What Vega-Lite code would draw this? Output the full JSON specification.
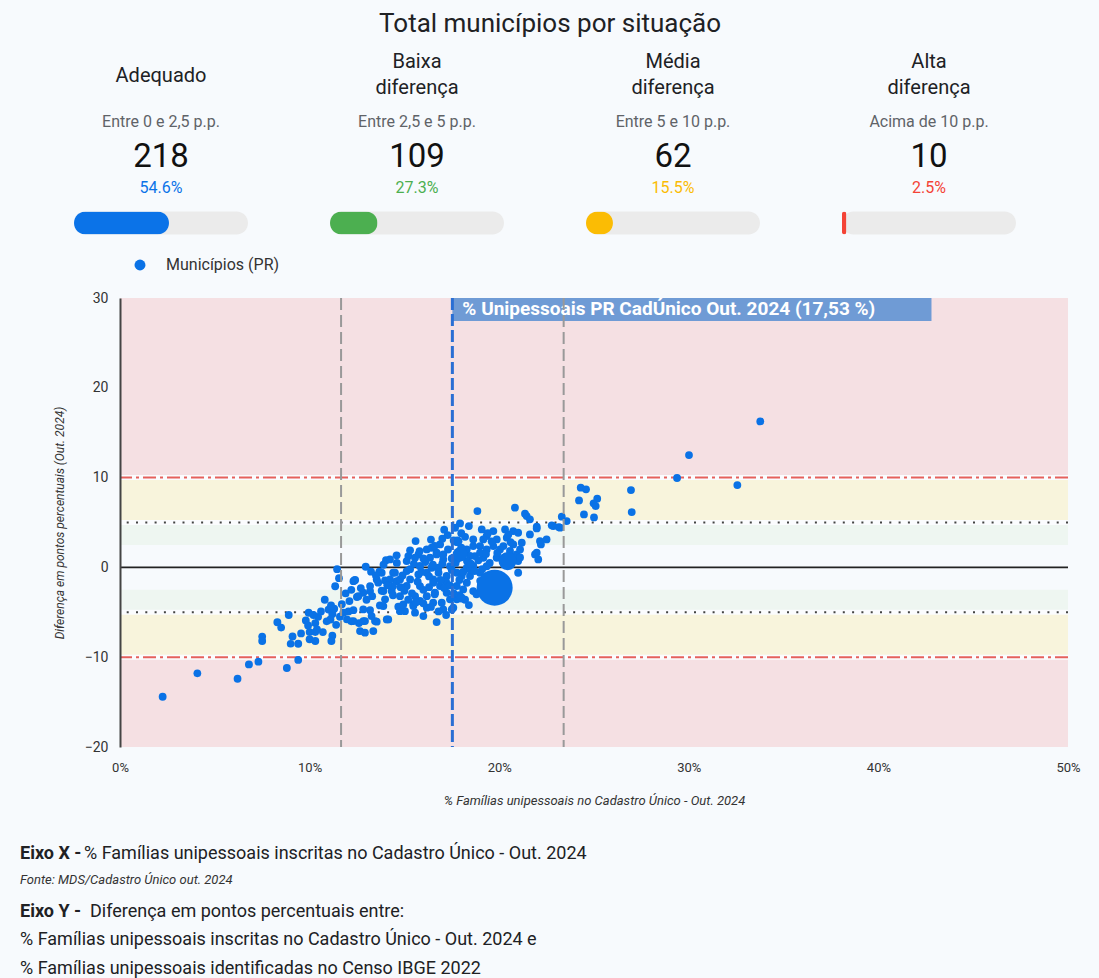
{
  "$schema": "https://vega.github.io/schema/vega-lite/v6.json",
  "background": "#f7fafd",
  "padding": {"left": 20, "top": 10, "right": 20, "bottom": 0},
  "title": {"text": "Total municípios por situação", "fontSize": 26, "font": "Roboto", "fontWeight": "normal", "color": "#202124", "anchor": "middle", "offset": 14},
  "config": {"view": {"stroke": null}, "font": "Roboto", "axis": {"grid": false}},
  "resolve": {"scale": {"color": "independent", "fill": "independent"}, "legend": {"color": "independent", "fill": "independent"}},
  "spacing": 15,
  "vconcat": [
    {
      "spacing": 0,
      "hconcat": [
        {"width": 54, "height": 1, "data": {"values": [{}]}, "mark": {"type": "text"}, "encoding": {"text": {"value": ""}}},
        {
          "data": {"values": [
            {"situacao": "Adequado", "faixa": "Entre 0 e 2,5 p.p.", "total": 218, "pct": 0.546},
            {"situacao": "Baixa diferença", "faixa": "Entre 2,5 e 5 p.p.", "total": 109, "pct": 0.273},
            {"situacao": "Média diferença", "faixa": "Entre 5 e 10 p.p.", "total": 62, "pct": 0.155},
            {"situacao": "Alta diferença", "faixa": "Acima de 10 p.p.", "total": 10, "pct": 0.025}
          ]},
          "facet": {"column": {"field": "situacao", "type": "nominal", "sort": ["Adequado", "Baixa diferença", "Média diferença", "Alta diferença"], "header": {"title": null, "labels": false}}},
          "spacing": 82,
          "spec": {
            "width": 174,
            "height": 185.6,
            "layer": [
              {
                "mark": {"type": "bar", "height": 23, "cornerRadius": 11.5, "color": "#ebebeb"},
                "encoding": {
                  "x": {"datum": 1, "type": "quantitative", "scale": {"domain": [0, 1]}, "axis": null},
                  "y": {"datum": "barra", "type": "nominal", "scale": {"type": "band", "domain": ["titulo", "faixa", "total", "pct", "barra"], "paddingInner": 0, "paddingOuter": 0}, "axis": null}
                }
              },
              {
                "mark": {"type": "bar", "height": 23, "cornerRadius": 11.5},
                "encoding": {
                  "x": {"field": "pct", "type": "quantitative"},
                  "y": {"datum": "barra", "type": "nominal"},
                  "fill": {"field": "situacao", "type": "nominal", "scale": {"domain": ["Adequado", "Baixa diferença", "Média diferença", "Alta diferença"], "range": ["#0b73e8", "#4caf50", "#fbbc04", "#f44336"]}, "legend": null}
                }
              },
              {
                "transform": [{"filter": "indexof(datum.situacao, ' ') < 0"}],
                "mark": {"type": "text", "fontSize": 20, "color": "#202124", "baseline": "middle", "dy": 1},
                "encoding": {
                  "x": {"datum": 0.5, "type": "quantitative"},
                  "y": {"datum": "titulo", "type": "nominal"},
                  "text": {"field": "situacao"}
                }
              },
              {
                "transform": [{"filter": "indexof(datum.situacao, ' ') >= 0"}],
                "mark": {"type": "text", "lineBreak": " ", "lineHeight": 26, "fontSize": 20, "color": "#202124", "baseline": "middle", "dy": -13},
                "encoding": {
                  "x": {"datum": 0.5, "type": "quantitative"},
                  "y": {"datum": "titulo", "type": "nominal"},
                  "text": {"field": "situacao"}
                }
              },
              {
                "mark": {"type": "text", "fontSize": 16, "color": "#5f6368", "baseline": "middle", "dy": 10},
                "encoding": {
                  "x": {"datum": 0.5, "type": "quantitative"},
                  "y": {"datum": "faixa", "type": "nominal"},
                  "text": {"field": "faixa"}
                }
              },
              {
                "mark": {"type": "text", "fontSize": 33, "color": "#111111", "baseline": "middle", "dy": 8},
                "encoding": {
                  "x": {"datum": 0.5, "type": "quantitative"},
                  "y": {"datum": "total", "type": "nominal"},
                  "text": {"field": "total"}
                }
              },
              {
                "mark": {"type": "text", "fontSize": 16, "baseline": "middle", "dy": 2},
                "encoding": {
                  "x": {"datum": 0.5, "type": "quantitative"},
                  "y": {"datum": "pct", "type": "nominal"},
                  "text": {"field": "pct", "format": ".1%"},
                  "fill": {"field": "situacao", "type": "nominal", "legend": null}
                }
              }
            ]
          }
        }
      ]
    },
    {
      "spacing": 0,
      "hconcat": [
        {"width": 33, "height": 1, "data": {"values": [{}]}, "mark": {"type": "text"}, "encoding": {"text": {"value": ""}}},
        {
          "width": 948,
          "height": 449,
          "layer": [
            {
              "data": {"values": [
                {"faixa": "alta", "ini": 10, "fim": 30},
                {"faixa": "alta", "ini": -20, "fim": -10},
                {"faixa": "media", "ini": 5, "fim": 10},
                {"faixa": "media", "ini": -10, "fim": -5},
                {"faixa": "baixa", "ini": 2.5, "fim": 5},
                {"faixa": "baixa", "ini": -5, "fim": -2.5}
              ]},
              "mark": {"type": "rect"},
              "encoding": {
                "x": {"datum": 0, "type": "quantitative"},
                "x2": {"datum": 50},
                "y": {"field": "ini", "type": "quantitative"},
                "y2": {"field": "fim"},
                "fill": {"field": "faixa", "type": "nominal", "scale": {"domain": ["alta", "media", "baixa"], "range": ["#f5e0e3", "#f8f4dc", "#eef6f1"]}, "legend": null}
              }
            },
            {
              "data": {"values": [{"valor": 10, "tipo": "alta"}, {"valor": -10, "tipo": "alta"}, {"valor": 5, "tipo": "media"}, {"valor": -5, "tipo": "media"}, {"valor": 0, "tipo": "zero"}]},
              "layer": [
                {
                  "transform": [{"filter": "datum.tipo != 'zero'"}],
                  "mark": {"type": "rule", "color": "#fbfcfe", "strokeWidth": 5},
                  "encoding": {"y": {"field": "valor", "type": "quantitative"}}
                },
                {
                  "transform": [{"filter": "datum.tipo == 'zero'"}],
                  "mark": {"type": "rule", "color": "#222222", "strokeWidth": 1.6},
                  "encoding": {"y": {"field": "valor", "type": "quantitative"}}
                },
                {
                  "transform": [{"filter": "datum.tipo == 'media'"}],
                  "mark": {"type": "rule", "color": "#444444", "strokeWidth": 2, "strokeDash": [2, 7.3]},
                  "encoding": {"y": {"field": "valor", "type": "quantitative"}}
                },
                {
                  "transform": [{"filter": "datum.tipo == 'alta'"}],
                  "mark": {"type": "rule", "color": "#e5605c", "strokeWidth": 2, "strokeDash": [13, 4, 3, 4]},
                  "encoding": {"y": {"field": "valor", "type": "quantitative"}}
                }
              ]
            },
            {
              "data": {"values": [
{"cad":2.25,"dif":-14.4,"fam":600},{"cad":4.08,"dif":-11.8,"fam":450},{"cad":6.2,"dif":-12.4,"fam":500},{"cad":6.8,"dif":-10.8,"fam":700},{"cad":7.3,"dif":-10.5,"fam":550},{"cad":8.8,"dif":-11.2,"fam":620},{"cad":9.4,"dif":-10.3,"fam":480},{"cad":7.5,"dif":-7.7,"fam":520},{"cad":7.5,"dif":-8.2,"fam":610},{"cad":8.3,"dif":-6.1,"fam":700},{"cad":8.5,"dif":-6.7,"fam":430},{"cad":8.9,"dif":-5.3,"fam":560},{"cad":9.1,"dif":-7.7,"fam":640},{"cad":9.0,"dif":-8.5,"fam":390},{"cad":9.4,"dif":-8.5,"fam":720},{"cad":9.55,"dif":-7.35,"fam":480},{"cad":9.8,"dif":-5.9,"fam":530},{"cad":9.95,"dif":-5.05,"fam":610},{"cad":10.0,"dif":-7.2,"fam":450},{"cad":10.0,"dif":-8.0,"fam":580},{"cad":10.3,"dif":-8.2,"fam":700},{"cad":10.3,"dif":-7.2,"fam":410},{"cad":10.3,"dif":-6.2,"fam":660},{"cad":10.45,"dif":-5.5,"fam":520},{"cad":10.7,"dif":-7.2,"fam":480},{"cad":10.8,"dif":-3.6,"fam":590},{"cad":11.0,"dif":-4.7,"fam":640},{"cad":10.9,"dif":-6.0,"fam":450},{"cad":11.2,"dif":-7.6,"fam":530},{"cad":11.15,"dif":-8.2,"fam":700},{"cad":11.2,"dif":-5.2,"fam":820},{"cad":11.3,"dif":-4.6,"fam":480},{"cad":11.4,"dif":-6.4,"fam":560},{"cad":11.35,"dif":-2.1,"fam":620},{"cad":11.55,"dif":-1.2,"fam":510},{"cad":11.45,"dif":-0.2,"fam":470},{"cad":12.4,"dif":-1.4,"fam":690},{"cad":12.1,"dif":-3.75,"fam":540},{"cad":12.05,"dif":-4.9,"fam":610},{"cad":12.2,"dif":-6.0,"fam":450},{"cad":12.5,"dif":-3.3,"fam":780},{"cad":12.6,"dif":-6.2,"fam":520},{"cad":10.6,"dif":-4.9,"fam":480},{"cad":11.6,"dif":-5.5,"fam":630},{"cad":11.7,"dif":-4.1,"fam":570},{"cad":11.9,"dif":-2.9,"fam":440},{"cad":11.1,"dif":-5.8,"fam":600},{"cad":10.2,"dif":-5.3,"fam":510},{"cad":11.13,"dif":-4.23,"fam":680},{"cad":11.97,"dif":-5.79,"fam":420},{"cad":9.92,"dif":-6.46,"fam":560},{"cad":10.39,"dif":-6.9,"fam":610},
{"cad":12.96,"dif":0.08,"fam":720},{"cad":13.24,"dif":-0.48,"fam":540},{"cad":13.68,"dif":-0.48,"fam":600},{"cad":12.36,"dif":-1.45,"fam":480},{"cad":13.54,"dif":-1.34,"fam":650},{"cad":13.98,"dif":-1.45,"fam":530},{"cad":14.41,"dif":-0.59,"fam":880},{"cad":14.59,"dif":-1.53,"fam":610},{"cad":14.33,"dif":-2.64,"fam":700},{"cad":13.19,"dif":-2.64,"fam":470},{"cad":12.83,"dif":-2.82,"fam":560},{"cad":12.57,"dif":-3.2,"fam":620},{"cad":12.31,"dif":-4.76,"fam":540},{"cad":12.83,"dif":-4.68,"fam":610},{"cad":13.19,"dif":-4.76,"fam":480},{"cad":13.71,"dif":-4.23,"fam":720},{"cad":13.27,"dif":-5.42,"fam":560},{"cad":12.92,"dif":-5.98,"fam":640},{"cad":13.54,"dif":-6.05,"fam":500},{"cad":14.07,"dif":-5.79,"fam":590},{"cad":14.68,"dif":-4.38,"fam":680},{"cad":15.03,"dif":-4.87,"fam":530},{"cad":15.47,"dif":-4.12,"fam":610},{"cad":16.0,"dif":-5.42,"fam":470},{"cad":16.7,"dif":-6.09,"fam":580},{"cad":17.05,"dif":-4.68,"fam":640},{"cad":17.58,"dif":-4.49,"fam":520},{"cad":12.66,"dif":-7.09,"fam":560},{"cad":12.92,"dif":-7.27,"fam":490},{"cad":13.36,"dif":-7.09,"fam":610},{"cad":14.03,"dif":0.81,"fam":650},{"cad":14.24,"dif":0.89,"fam":590},{"cad":14.59,"dif":1.34,"fam":720},{"cad":15.21,"dif":1.26,"fam":680},{"cad":15.74,"dif":1.45,"fam":540},{"cad":16.18,"dif":2.0,"fam":610},{"cad":16.7,"dif":1.64,"fam":760},{"cad":15.59,"dif":2.93,"fam":530},{"cad":16.88,"dif":2.56,"fam":690},{"cad":17.28,"dif":3.6,"fam":640},{"cad":17.76,"dif":2.82,"fam":580},{"cad":14.5,"dif":-0.59,"fam":590},{"cad":14.24,"dif":-1.34,"fam":640},{"cad":14.4,"dif":-2.1,"fam":520},{"cad":13.89,"dif":-2.64,"fam":610},{"cad":13.62,"dif":-1.7,"fam":540},{"cad":13.8,"dif":-0.59,"fam":700},{"cad":13.19,"dif":-2.08,"fam":560},{"cad":11.78,"dif":-5.04,"fam":590},{"cad":12.31,"dif":-1.53,"fam":470},{"cad":13.98,"dif":-3.56,"fam":620},{"cad":13.89,"dif":-4.31,"fam":500},{"cad":14.77,"dif":-4.87,"fam":580},{"cad":15.56,"dif":-5.04,"fam":640},{"cad":14.15,"dif":-5.79,"fam":530},{"cad":13.45,"dif":-5.98,"fam":600},{"cad":12.83,"dif":-5.98,"fam":470},{"cad":12.31,"dif":-5.98,"fam":560},
{"cad":15.12,"dif":-2.08,"fam":700},{"cad":14.77,"dif":-1.34,"fam":560},{"cad":15.12,"dif":-0.41,"fam":620},{"cad":15.12,"dif":0.7,"fam":580},{"cad":15.56,"dif":1.08,"fam":650},{"cad":15.82,"dif":0.14,"fam":900},{"cad":16.18,"dif":-0.59,"fam":720},{"cad":16.52,"dif":-1.34,"fam":610},{"cad":16.88,"dif":-2.08,"fam":680},{"cad":17.23,"dif":-0.97,"fam":840},{"cad":17.41,"dif":0.14,"fam":760},{"cad":17.05,"dif":0.89,"fam":650},{"cad":16.7,"dif":1.45,"fam":590},{"cad":16.35,"dif":1.08,"fam":700},{"cad":14.77,"dif":-3.2,"fam":540},{"cad":14.94,"dif":-4.12,"fam":620},{"cad":15.47,"dif":-4.31,"fam":560},{"cad":15.82,"dif":-3.75,"fam":680},{"cad":16.18,"dif":-3.2,"fam":720},{"cad":16.52,"dif":-3.93,"fam":600},{"cad":16.97,"dif":-3.93,"fam":650},{"cad":17.41,"dif":-3.56,"fam":780},{"cad":17.76,"dif":-3.56,"fam":560},{"cad":17.5,"dif":-4.68,"fam":620},{"cad":16.18,"dif":-4.49,"fam":540},{"cad":16.61,"dif":-2.82,"fam":880},{"cad":17.23,"dif":-2.82,"fam":700},{"cad":17.76,"dif":-2.08,"fam":760},{"cad":18.1,"dif":-2.45,"fam":640},{"cad":18.63,"dif":-2.64,"fam":590},{"cad":18.29,"dif":-1.7,"fam":820},{"cad":15.82,"dif":-2.08,"fam":660},{"cad":15.56,"dif":-3.2,"fam":720},{"cad":15.3,"dif":-1.34,"fam":610},{"cad":15.74,"dif":-0.78,"fam":840},{"cad":16.44,"dif":-0.03,"fam":950},{"cad":16.79,"dif":-0.03,"fam":700},{"cad":17.76,"dif":-0.59,"fam":880},{"cad":18.02,"dif":-0.97,"fam":650},{"cad":17.76,"dif":0.89,"fam":720},{"cad":18.29,"dif":-0.03,"fam":600},{"cad":18.29,"dif":2.0,"fam":680},{"cad":18.63,"dif":2.37,"fam":590},{"cad":18.99,"dif":2.37,"fam":620},{"cad":19.34,"dif":2.0,"fam":700},{"cad":19.69,"dif":2.37,"fam":560},{"cad":20.04,"dif":2.0,"fam":640},{"cad":19.87,"dif":1.08,"fam":760},{"cad":19.34,"dif":0.14,"fam":820},{"cad":18.99,"dif":-0.59,"fam":700},{"cad":18.46,"dif":-0.97,"fam":650},{"cad":19.34,"dif":-0.97,"fam":600},{"cad":18.63,"dif":0.14,"fam":880},{"cad":18.72,"dif":1.26,"fam":640},{"cad":19.16,"dif":1.08,"fam":700},{"cad":18.63,"dif":3.12,"fam":560},{"cad":19.16,"dif":3.12,"fam":620},{"cad":19.08,"dif":4.23,"fam":540},{"cad":19.69,"dif":4.04,"fam":600},{"cad":19.34,"dif":3.49,"fam":650},{"cad":19.87,"dif":3.12,"fam":580},{"cad":20.31,"dif":4.23,"fam":520},{"cad":20.4,"dif":3.31,"fam":610},{"cad":20.22,"dif":2.37,"fam":700},{"cad":20.57,"dif":1.82,"fam":640},{"cad":20.92,"dif":1.45,"fam":560},{"cad":21.0,"dif":0.7,"fam":500},{"cad":20.74,"dif":4.04,"fam":590},{"cad":21.0,"dif":3.86,"fam":540},{"cad":20.48,"dif":3.67,"fam":620},{"cad":20.74,"dif":2.56,"fam":680},{"cad":21.1,"dif":2.0,"fam":560},{"cad":21.0,"dif":-0.6,"fam":600},{"cad":21.98,"dif":4.53,"fam":520},{"cad":21.62,"dif":3.67,"fam":580},{"cad":22.15,"dif":2.93,"fam":560},{"cad":22.5,"dif":3.12,"fam":500},{"cad":21.89,"dif":1.45,"fam":620},{"cad":22.06,"dif":0.89,"fam":540},{"cad":21.45,"dif":5.71,"fam":480},{"cad":21.62,"dif":5.35,"fam":560},{"cad":20.83,"dif":6.65,"fam":600},{"cad":18.85,"dif":6.27,"fam":520},{"cad":22.85,"dif":4.6,"fam":540},{"cad":23.21,"dif":4.42,"fam":580},{"cad":23.3,"dif":5.65,"fam":500},{"cad":23.56,"dif":5.16,"fam":560},{"cad":17.93,"dif":4.9,"fam":640},{"cad":17.67,"dif":4.42,"fam":700},{"cad":21.19,"dif":2.75,"fam":520},{"cad":22.2,"dif":2.56,"fam":560},{"cad":21.98,"dif":1.64,"fam":500},{"cad":21.1,"dif":1.11,"fam":580},{"cad":16.44,"dif":2.19,"fam":620},{"cad":17.05,"dif":1.45,"fam":650},{"cad":18.46,"dif":1.26,"fam":700},{"cad":18.99,"dif":1.64,"fam":680},{"cad":18.46,"dif":-0.22,"fam":760},{"cad":16.52,"dif":-1.7,"fam":720},
{"cad":15.3,"dif":-0.2,"fam":560},{"cad":15.5,"dif":0.4,"fam":620},{"cad":15.9,"dif":-0.5,"fam":700},{"cad":16.1,"dif":0.6,"fam":580},{"cad":16.3,"dif":-1.0,"fam":640},{"cad":16.5,"dif":0.3,"fam":720},{"cad":16.8,"dif":-0.6,"fam":600},{"cad":17.0,"dif":0.4,"fam":680},{"cad":17.2,"dif":-1.6,"fam":560},{"cad":17.5,"dif":-0.3,"fam":740},{"cad":17.7,"dif":0.5,"fam":620},{"cad":17.9,"dif":-1.4,"fam":700},{"cad":18.1,"dif":-0.5,"fam":660},{"cad":18.3,"dif":0.7,"fam":590},{"cad":15.0,"dif":-2.6,"fam":640},{"cad":15.4,"dif":-2.9,"fam":560},{"cad":15.7,"dif":-1.6,"fam":700},{"cad":16.0,"dif":-2.5,"fam":620},{"cad":16.3,"dif":-2.2,"fam":580},{"cad":16.6,"dif":-3.0,"fam":660},{"cad":16.9,"dif":-1.4,"fam":740},{"cad":17.1,"dif":-2.3,"fam":600},{"cad":17.4,"dif":-2.0,"fam":680},{"cad":17.6,"dif":-2.9,"fam":560},{"cad":17.9,"dif":-3.1,"fam":620},{"cad":18.2,"dif":-3.6,"fam":580},{"cad":15.2,"dif":-3.6,"fam":560},{"cad":15.6,"dif":-3.9,"fam":620},{"cad":16.0,"dif":-4.0,"fam":580},{"cad":16.4,"dif":-4.4,"fam":540},{"cad":16.8,"dif":-4.9,"fam":600},{"cad":17.2,"dif":-5.3,"fam":520},{"cad":14.8,"dif":-2.2,"fam":620},{"cad":14.9,"dif":-0.9,"fam":660},{"cad":15.8,"dif":1.8,"fam":600},{"cad":16.0,"dif":1.0,"fam":640},{"cad":16.6,"dif":2.4,"fam":580},{"cad":17.3,"dif":2.0,"fam":700},{"cad":17.5,"dif":1.0,"fam":760},{"cad":17.6,"dif":3.0,"fam":620},{"cad":18.0,"dif":2.2,"fam":680},{"cad":18.2,"dif":3.4,"fam":560},{"cad":18.5,"dif":0.4,"fam":640},{"cad":18.7,"dif":-0.4,"fam":700},{"cad":18.9,"dif":0.8,"fam":620},{"cad":19.1,"dif":-0.2,"fam":580},{"cad":19.3,"dif":1.5,"fam":640},{"cad":19.5,"dif":0.5,"fam":600},{"cad":19.6,"dif":2.9,"fam":560},{"cad":19.9,"dif":1.6,"fam":620},{"cad":20.2,"dif":1.0,"fam":580},{"cad":20.6,"dif":2.8,"fam":540},{"cad":19.0,"dif":-1.5,"fam":640},{"cad":18.8,"dif":-3.0,"fam":560},{"cad":18.4,"dif":-4.2,"fam":520},{"cad":14.4,"dif":-3.1,"fam":600},{"cad":14.1,"dif":-2.0,"fam":640},{"cad":13.8,"dif":-2.6,"fam":560},{"cad":13.5,"dif":-0.9,"fam":620},{"cad":13.3,"dif":-3.2,"fam":560},{"cad":13.0,"dif":-3.6,"fam":600},{"cad":12.7,"dif":-2.3,"fam":540},{"cad":12.2,"dif":-2.5,"fam":580},{"cad":13.9,"dif":0.3,"fam":620},{"cad":14.6,"dif":0.5,"fam":660},{"cad":15.3,"dif":1.9,"fam":600},{"cad":16.4,"dif":3.1,"fam":560},{"cad":17.0,"dif":3.2,"fam":620},{"cad":17.1,"dif":4.2,"fam":580},{"cad":18.4,"dif":4.6,"fam":560},{"cad":18.0,"dif":3.8,"fam":600},{"cad":19.4,"dif":3.8,"fam":580},
{"cad":24.3,"dif":8.88,"fam":560},{"cad":24.58,"dif":8.69,"fam":520},{"cad":24.21,"dif":7.46,"fam":600},{"cad":25.17,"dif":7.65,"fam":540},{"cad":24.98,"dif":7.13,"fam":580},{"cad":25.09,"dif":6.83,"fam":520},{"cad":24.47,"dif":5.9,"fam":560},{"cad":25.0,"dif":5.57,"fam":540},{"cad":26.95,"dif":8.61,"fam":600},{"cad":26.99,"dif":6.16,"fam":560},{"cad":29.38,"dif":9.95,"fam":620},{"cad":30.01,"dif":12.51,"fam":500},{"cad":32.56,"dif":9.17,"fam":560},{"cad":33.77,"dif":16.26,"fam":580},{"cad":21.36,"dif":5.98,"fam":520},{"cad":22.77,"dif":4.68,"fam":540},{"cad":23.14,"dif":4.49,"fam":500},{"cad":21.98,"dif":4.34,"fam":560},
{"cad":17.8,"dif":2.9,"fam":3500},{"cad":18.0,"dif":-3.4,"fam":2500},{"cad":17.93,"dif":1.45,"fam":12800},{"cad":20.44,"dif":0.7,"fam":21900},{"cad":19.76,"dif":-2.26,"fam":100000}
              ]},
              "mark": {"type": "circle", "opacity": 1},
              "encoding": {
                "x": {"field": "cad", "type": "quantitative", "scale": {"domain": [0, 50], "nice": false, "zero": false},
                  "axis": {"title": "% Famílias unipessoais no Cadastro Único - Out. 2024", "values": [0, 10, 20, 30, 40, 50], "labelExpr": "datum.value + '%'", "grid": false, "ticks": false, "domain": false, "labelFontSize": 13, "labelColor": "#333333", "labelPadding": 14, "labelFlush": false, "titleFontSize": 13, "titleFontStyle": "italic", "titleFontWeight": "normal", "titleColor": "#333333", "titlePadding": 20}},
                "y": {"field": "dif", "type": "quantitative", "scale": {"domain": [-20, 30], "nice": false, "zero": false},
                  "axis": {"title": "Diferença em pontos percentuais (Out. 2024)", "values": [-20, -10, 0, 10, 20, 30], "grid": false, "ticks": false, "domain": true, "domainColor": "#444444", "domainWidth": 2, "zindex": 1, "labelFontSize": 14, "labelColor": "#333333", "labelPadding": 12, "labelFlush": false, "titleFontSize": 12, "titleFontStyle": "italic", "titleFontWeight": "normal", "titleColor": "#333333", "titlePadding": 18}},
                "size": {"field": "fam", "type": "quantitative", "scale": {"domain": [0, 105000], "range": [54, 1360]}, "legend": null},
                "color": {"datum": "Municípios (PR)", "type": "nominal", "scale": {"range": ["#0a72e6"]},
                  "legend": {"title": null, "orient": "none", "legendX": 112, "legendY": -41, "symbolType": "circle", "symbolSize": 120, "symbolOpacity": 1, "symbolStrokeWidth": 0, "labelFontSize": 16, "labelColor": "#333333", "labelOffset": 18, "padding": 0}}
              }
            },
            {
              "data": {"values": [
                {"valor": 11.66, "tipo": "desvio", "rotulo": ""},
                {"valor": 23.4, "tipo": "desvio", "rotulo": ""},
                {"valor": 17.53, "tipo": "media_pr", "rotulo": "% Unipessoais PR CadÚnico Out. 2024 (17,53 %)"}
              ]},
              "layer": [
                {
                  "transform": [{"filter": "datum.tipo == 'media_pr'"}],
                  "mark": {"type": "rect", "color": "#6f9bd5"},
                  "encoding": {
                    "x": {"field": "valor", "type": "quantitative"},
                    "x2": {"datum": 42.8},
                    "y": {"datum": 30, "type": "quantitative"},
                    "y2": {"datum": 27.45}
                  }
                },
                {
                  "transform": [{"filter": "datum.tipo == 'media_pr'"}],
                  "mark": {"type": "text", "color": "#ffffff", "fontWeight": "bold", "fontSize": 19, "align": "left", "baseline": "middle", "dx": 10},
                  "encoding": {
                    "x": {"field": "valor", "type": "quantitative"},
                    "y": {"datum": 28.75, "type": "quantitative"},
                    "text": {"field": "rotulo"}
                  }
                },
                {
                  "transform": [{"filter": "datum.tipo == 'desvio'"}],
                  "mark": {"type": "rule", "color": "#999999", "strokeWidth": 2, "strokeDash": [12, 5]},
                  "encoding": {"x": {"field": "valor", "type": "quantitative"}}
                },
                {
                  "transform": [{"filter": "datum.tipo == 'media_pr'"}],
                  "mark": {"type": "rule", "color": "#2a6fd4", "strokeWidth": 3, "strokeDash": [12, 4]},
                  "encoding": {"x": {"field": "valor", "type": "quantitative"}}
                }
              ]
            }
          ]
        }
      ]
    },
    {
      "width": 1000,
      "height": 147,
      "data": {"values": [
        {"linha": 1, "rotulo": "Eixo X -", "texto": "% Famílias unipessoais inscritas no Cadastro Único - Out. 2024"},
        {"linha": 2, "rotulo": "", "texto": "Fonte: MDS/Cadastro Único out. 2024"},
        {"linha": 3, "rotulo": "Eixo Y -", "texto": "Diferença em pontos percentuais entre:"},
        {"linha": 4, "rotulo": "", "texto": "% Famílias unipessoais inscritas no Cadastro Único - Out. 2024 e"},
        {"linha": 5, "rotulo": "", "texto": "% Famílias unipessoais identificadas no Censo IBGE 2022"}
      ]},
      "layer": [
        {
          "transform": [{"filter": "datum.linha == 1 || datum.linha == 3"}],
          "mark": {"type": "text", "align": "left", "baseline": "middle", "fontSize": 18, "fontWeight": "bold", "color": "#202124"},
          "encoding": {
            "x": {"datum": 0, "type": "quantitative", "scale": {"domain": [0, 1]}, "axis": null},
            "y": {"field": "linha", "type": "ordinal", "scale": {"type": "point", "domain": [1, 2, 3, 4, 5], "range": [32, 147], "padding": 0}, "axis": null},
            "text": {"field": "rotulo"}
          }
        },
        {
          "transform": [{"filter": "datum.linha == 1"}],
          "mark": {"type": "text", "align": "left", "baseline": "middle", "fontSize": 18, "color": "#202124", "dx": 64},
          "encoding": {
            "x": {"datum": 0, "type": "quantitative"},
            "y": {"field": "linha", "type": "ordinal"},
            "text": {"field": "texto"}
          }
        },
        {
          "transform": [{"filter": "datum.linha == 3"}],
          "mark": {"type": "text", "align": "left", "baseline": "middle", "fontSize": 18, "color": "#202124", "dx": 70},
          "encoding": {
            "x": {"datum": 0, "type": "quantitative"},
            "y": {"field": "linha", "type": "ordinal"},
            "text": {"field": "texto"}
          }
        },
        {
          "transform": [{"filter": "datum.linha == 2"}],
          "mark": {"type": "text", "align": "left", "baseline": "middle", "fontSize": 13, "fontStyle": "italic", "color": "#333333", "dy": -3},
          "encoding": {
            "x": {"datum": 0, "type": "quantitative"},
            "y": {"field": "linha", "type": "ordinal"},
            "text": {"field": "texto"}
          }
        },
        {
          "transform": [{"filter": "datum.linha >= 4"}],
          "mark": {"type": "text", "align": "left", "baseline": "middle", "fontSize": 18, "color": "#202124"},
          "encoding": {
            "x": {"datum": 0, "type": "quantitative"},
            "y": {"field": "linha", "type": "ordinal"},
            "text": {"field": "texto"}
          }
        }
      ]
    }
  ]
}
